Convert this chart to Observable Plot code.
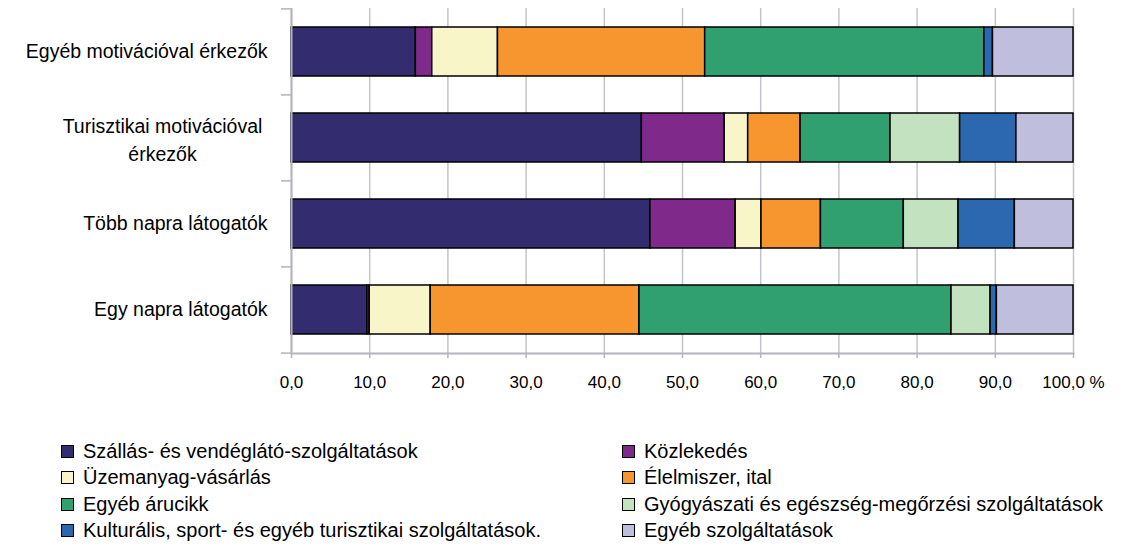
<!DOCTYPE html>
<html>
<head>
<meta charset="utf-8">
<script src="https://cdn.jsdelivr.net/npm/d3@7"></script>
<script src="https://cdn.jsdelivr.net/npm/@observablehq/plot@0.6"></script>
<style>
  body { margin: 0; background: #fff; font-family: "Liberation Sans", Arial, sans-serif; }
  #chart svg { display: block; }
  .legend { display: grid; grid-template-columns: 561px auto; margin-top: 38px; padding-left: 61px; font-size: 20px; color: #000; }
  .item { display: flex; align-items: center; height: 26.5px; white-space: nowrap; }
  .sw { width: 11px; height: 11px; border: 1.5px solid #000; margin-right: 9px; flex: none; }
</style>
</head>
<body>
<div id="chart"></div>
<div class="legend" id="legend"></div>
<script>
const categories = [
  "Egyéb motivációval érkezők",
  "Turisztikai motivációval érkezők",
  "Több napra látogatók",
  "Egy napra látogatók"
];
const seriesNames = [
  "Szállás- és vendéglátó-szolgáltatások",
  "Közlekedés",
  "Üzemanyag-vásárlás",
  "Élelmiszer, ital",
  "Egyéb árucikk",
  "Gyógyászati és egészség-megőrzési szolgáltatások",
  "Kulturális, sport- és egyéb turisztikai szolgáltatások.",
  "Egyéb szolgáltatások"
];
const colors = ["#332c6e", "#7f2a8a", "#f8f6c8", "#f7962e", "#31a071", "#c3e2c0", "#2c68b0", "#bfbedd"];

// values per series, in the order of categories
const szallas      = [15.9, 44.8, 45.9,  9.7];
const kozlekedes   = [ 2.1, 10.6, 10.9,  0.3];
const uzemanyag    = [ 8.4,  3.0,  3.3,  7.8];
const elelmiszer   = [26.5,  6.7,  7.6, 26.7];
const egyebAru     = [35.7, 11.5, 10.6, 39.9];
const gyogyaszati  = [ 0.0,  8.9,  7.0,  5.0];
const kulturalis   = [ 1.1,  7.2,  7.2,  0.8];
const egyebSzolg   = [10.3,  7.3,  7.5,  9.8];
const xTicks = [0, 10, 20, 30, 40, 50, 60, 70, 80, 90, 100];

const seriesValues = [szallas, kozlekedes, uzemanyag, elelmiszer, egyebAru, gyogyaszati, kulturalis, egyebSzolg];
const data = seriesNames.flatMap((s, i) =>
  categories.map((c, j) => ({category: c, series: s, value: seriesValues[i][j]}))
).filter(d => d.value > 0);

const gray = "#b4b4bc";
const half = (345 / 4) / 2;
const labelsMain = [categories[0], categories[2], categories[3]];
const fmt = d => d.toFixed(1).replace(".", ",") + (d === 100 ? " %" : "");

const chart = Plot.plot({
  width: 1130,
  height: 400,
  marginLeft: 291,
  marginRight: 57,
  marginTop: 8,
  marginBottom: 47,
  style: {fontFamily: "'Liberation Sans', Arial, sans-serif", fontSize: "17px", color: "#000", background: "#fff"},
  x: {domain: [0, 100]},
  y: {domain: categories, paddingInner: 0.435, paddingOuter: 0.2175, axis: null},
  color: {domain: seriesNames, range: colors},
  marks: [
    Plot.gridX(xTicks, {stroke: "#c4c4cc", strokeOpacity: 1, strokeWidth: 1.5}),
    Plot.barX(data, Plot.stackX({x: "value", y: "category", fill: "series", order: seriesNames, stroke: "#000", strokeWidth: 1.5})),
    Plot.ruleX([0], {stroke: gray, strokeWidth: 2}),
    Plot.frame({anchor: "bottom", stroke: gray, strokeWidth: 2}),
    Plot.axisX({ticks: xTicks, tickFormat: fmt, tickSize: 5, tickPadding: 17, fontSize: 17, stroke: gray, strokeWidth: 1.5, strokeOpacity: 1, label: null}),
    Plot.axisY({ticks: categories, tickFormat: () => "", tickSize: 10, dy: -half, stroke: gray, strokeWidth: 1.5, strokeOpacity: 1, label: null}),
    Plot.axisY({ticks: [categories[3]], tickFormat: () => "", tickSize: 10, dy: half, stroke: gray, strokeWidth: 1.5, strokeOpacity: 1, label: null}),
    Plot.axisY({ticks: labelsMain, tickSize: 0, tickPadding: 24, fontSize: 19.5, label: null}),
    Plot.axisY({ticks: [categories[1]], tickFormat: () => "Turisztikai motivációval\nérkezők", tickSize: 0, tickPadding: 129, textAnchor: "middle", lineHeight: 1.45, fontSize: 19.5, label: null})
  ]
});
document.getElementById("chart").appendChild(chart);

const legend = document.getElementById("legend");
seriesNames.forEach((s, i) => {
  const item = document.createElement("div");
  item.className = "item";
  const sw = document.createElement("span");
  sw.className = "sw";
  sw.style.background = colors[i];
  const t = document.createElement("span");
  t.textContent = s;
  item.appendChild(sw);
  item.appendChild(t);
  legend.appendChild(item);
});
</script>
</body>
</html>
